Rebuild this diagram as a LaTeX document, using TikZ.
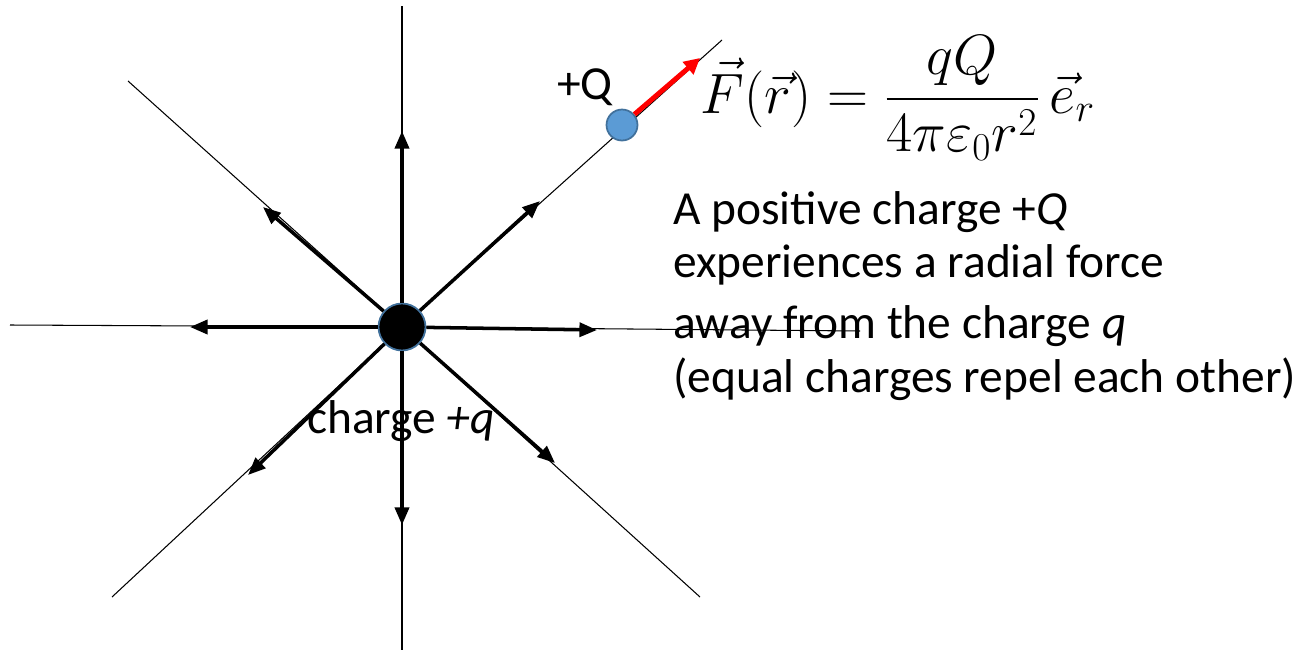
\documentclass[tikz,border=0pt]{standalone}
\usepackage{fontspec}
\setmainfont{Carlito}
\usepackage{amsmath}
\usepackage{graphicx}
\usetikzlibrary{arrows.meta, positioning}
\definecolor{qblue}{RGB}{91,155,213}
\definecolor{qedge}{RGB}{65,113,156}
\tikzset{
  fieldline/.style={line width=0.6pt},
  forcearrow/.style={line width=2pt, -{Triangle[length=10pt, width=8pt]}},
  txt/.style={font=\fontsize{27}{32}\selectfont, inner sep=0pt},
  charge/.style={circle, draw=qedge, line width=1pt, inner sep=0pt}
}

\begin{document}
\begin{tikzpicture}[x=0.02cm, y=-0.02cm]
\useasboundingbox (0,0) rectangle (1309,653);
\coordinate (c) at (402,327);
\coordinate (nEnd) at (402,6);
\coordinate (sEnd) at (402,650);
\coordinate (wEnd) at (10,325);
\coordinate (eEnd) at (860,331);
\coordinate (nwEnd) at (128,81);
\coordinate (neEnd) at (722,40);
\coordinate (swEnd) at (112,597);
\coordinate (seEnd) at (700,597);
\foreach \e in {nEnd,sEnd,wEnd,eEnd,nwEnd,neEnd,swEnd,seEnd}
  \draw[fieldline] (c) -- (\e);

\node[charge, fill=black, minimum size=0.94cm] (q) at (c) {};
\node[charge, fill=qblue, minimum size=0.62cm] (Q) at (622,125) {};

\coordinate (nTip) at (402,131);
\coordinate (sTip) at (402,525);
\coordinate (wTip) at (190,327);
\coordinate (eTip) at (597,330);
\coordinate (nwTip) at (263,207);
\coordinate (neTip) at (540,201);
\coordinate (swTip) at (248,475);
\coordinate (seTip) at (555,463);
\foreach \t in {nTip,sTip,wTip,eTip,nwTip,neTip,swTip,seTip}
  \draw[forcearrow] (q) -- (\t);

\coordinate (fTip) at (700,58);
\draw[red, line width=2.8pt, -{Triangle[length=9pt, width=9pt]}] (Q) -- (fTip);

\node[txt] (Qlabel) at (585,87) {+Q};
\node[txt, anchor=base] (qlabel) at (401,433) {charge \textit{+q}};
\node[font=\fontsize{25}{30}\selectfont, anchor=base] (law) at (898,113)
  {\scalebox{1.3}{$\vec{F}(\vec{r}) = \dfrac{qQ}{4\pi\varepsilon_0 r^2}\,\vec{e}_r$}};

\node[txt, anchor=base west] (line1) at (673,224) {A positive charge +\textit{Q}};
\node[txt, anchor=base west] (line2) at (673,277) {experiences a radial force};
\node[txt, anchor=base west] (line3) at (673,338) {away from the charge \textit{q}};
\node[txt, anchor=base west] (line4) at (673,392) {(equal charges repel each other)};
\end{tikzpicture}
\end{document}
